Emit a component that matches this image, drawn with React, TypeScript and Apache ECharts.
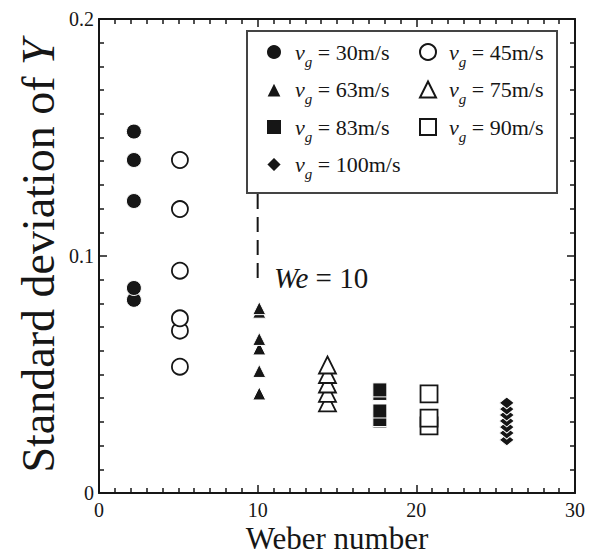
import React, { useEffect, useRef } from "react";
import * as echarts from "echarts";

const speeds = [30, 45, 63, 75, 83, 90, 100];
const weberNumbers = [2.2, 5.1, 10.1, 14.4, 17.7, 20.8, 25.7];
const sd30 = [0.0815, 0.0865, 0.1232, 0.1405, 0.1525];
const sd45 = [0.0533, 0.0685, 0.0737, 0.0938, 0.1198, 0.1405];
const sd63 = [0.042, 0.0515, 0.061, 0.065, 0.0765, 0.078];
const sd75 = [0.038, 0.042, 0.046, 0.05, 0.054];
const sd83 = [0.0304, 0.031, 0.0346, 0.042, 0.0435];
const sd90 = [0.0283, 0.0316, 0.0418];
const sd100 = [0.0224, 0.0253, 0.0278, 0.0304, 0.0329, 0.0354, 0.038];
const criticalWe = 10;
const criticalLine = [0.1262, 0.0885];
const xTicks = [0, 10, 20, 30];
const yTicks = [0, 0.1, 0.2];

const FONT = "Liberation Serif";
const INK = "#161616";

const sdSets = [sd30, sd45, sd63, sd75, sd83, sd90, sd100];
const symbols = ["circle", "circle", "triangle", "triangle", "rect", "rect", "diamond"];
const filled = [true, false, true, false, true, false, true];
const sizes: any[] = [15, 16, 13, 17, 14, 17, [15, 12]];

export default function App() {
  const ref = useRef<HTMLDivElement>(null);
  useEffect(() => {
    if (!ref.current) return;
    const chart = echarts.init(ref.current, null, { renderer: "svg" });

    const series: any[] = speeds.map((s, i) => ({
      name: String(s),
      type: "scatter",
      symbol: symbols[i],
      symbolSize: sizes[i],
      data: sdSets[i].map((v) => [weberNumbers[i], v]),
      itemStyle: filled[i]
        ? { color: INK, borderColor: "#fff", borderWidth: 1, opacity: 1 }
        : { color: "#fff", borderColor: INK, borderWidth: 1.8, opacity: 1 },
      z: 3,
    }));
    series.push({
      name: "We10",
      type: "line",
      symbol: "none",
      data: criticalLine.map((v) => [criticalWe, v]),
      lineStyle: { color: INK, width: 2, type: [15, 8] },
      z: 2,
    });

    const legendRich = {
      i: { fontFamily: FONT, fontStyle: "italic", fontSize: 22, lineHeight: 34, color: INK, padding: [0, 0, 0, 8] },
      s: { fontFamily: FONT, fontStyle: "italic", fontSize: 15, lineHeight: 12, verticalAlign: "bottom", color: INK },
      t: { fontFamily: FONT, fontSize: 22, lineHeight: 34, color: INK },
    };
    const legendBase = {
      orient: "vertical",
      itemWidth: 16,
      itemHeight: 16,
      itemGap: 9.5,
      formatter: (n: string) => `{i|v}{s|g}{t| = ${n}m/s}`,
      textStyle: { rich: legendRich },
      selectedMode: false,
      z: 6,
    };

    const axisCommon = {
      type: "value",
      axisLine: { show: true, onZero: false, lineStyle: { color: INK, width: 2 } },
      axisTick: { show: true, inside: true, length: 8, lineStyle: { color: INK, width: 1.5 } },
      minorTick: { show: true, splitNumber: 10, length: 5, lineStyle: { color: INK, width: 1.5 } },
      splitLine: { show: false },
    };

    chart.setOption({
      animation: false,
      backgroundColor: "#fff",
      grid: { left: 99, right: 20, top: 19, bottom: 67, containLabel: false, outerBoundsMode: "none" },
      xAxis: [
        {
          ...axisCommon,
          min: xTicks[0],
          max: xTicks[xTicks.length - 1],
          interval: 10,
          name: "Weber number",
          nameLocation: "middle",
          nameMoveOverlap: false,
          nameGap: 30,
          nameTextStyle: { fontFamily: FONT, fontSize: 31, color: INK },
          axisLabel: { fontFamily: FONT, fontSize: 20, color: INK, margin: 7 },
        },
        {
          ...axisCommon,
          position: "top",
          min: xTicks[0],
          max: xTicks[xTicks.length - 1],
          interval: 10,
          axisLabel: { show: false },
        },
      ],
      yAxis: [
        {
          ...axisCommon,
          min: yTicks[0],
          max: yTicks[yTicks.length - 1],
          interval: 0.1,
          name: "{t|Standard deviation of }{i|Y}",
          nameLocation: "middle",
          nameMoveOverlap: false,
          nameGap: 38,
          nameTextStyle: {
            rich: {
              t: { fontFamily: FONT, fontSize: 46, color: INK },
              i: { fontFamily: FONT, fontSize: 46, fontStyle: "italic", color: INK },
            },
          },
          axisLabel: {
            fontFamily: FONT,
            fontSize: 20,
            color: INK,
            margin: 5,
            formatter: (v: number) => (v === 0 ? "0" : v.toFixed(1)),
          },
        },
        {
          ...axisCommon,
          position: "right",
          min: yTicks[0],
          max: yTicks[yTicks.length - 1],
          interval: 0.1,
          axisLabel: { show: false },
        },
      ],
      legend: [
        { ...legendBase, left: 260, top: 36, data: ["30", "63", "83", "100"] },
        { ...legendBase, left: 414, top: 36, data: ["45", "75", "90"] },
      ],
      graphic: [
        {
          type: "rect",
          shape: { x: 247, y: 31, width: 310, height: 162 },
          style: { fill: "#fff", stroke: "#444", lineWidth: 2 },
          z: 5,
        },
        {
          type: "text",
          left: 274,
          top: 263,
          style: {
            text: "{i|We}{t| = 10}",
            rich: {
              i: { fontFamily: FONT, fontStyle: "italic", fontSize: 29, fill: INK },
              t: { fontFamily: FONT, fontSize: 29, fill: INK },
            },
          },
          z: 6,
        },
      ],
      series,
    });
    return () => chart.dispose();
  }, []);
  return (
    <div
      ref={ref}
      style={{ position: "fixed", left: 0, top: 0, width: 595, height: 560, background: "#fff" }}
    />
  );
}
